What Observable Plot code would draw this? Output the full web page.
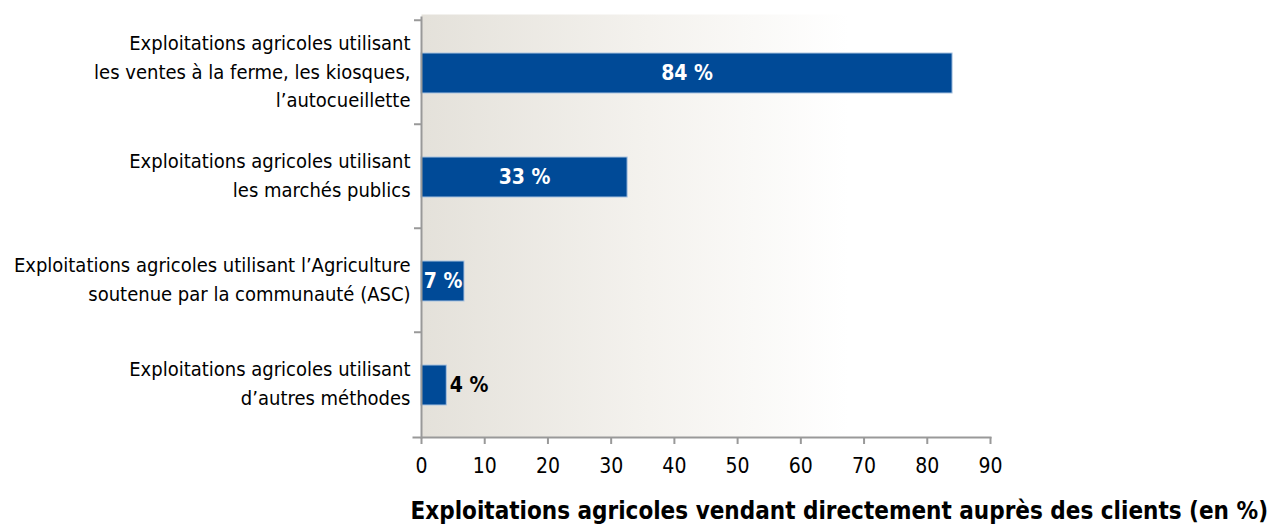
<!DOCTYPE html>
<html>
<head>
<meta charset="utf-8">
<script src="https://cdn.jsdelivr.net/npm/d3@7"></script>
<script src="https://cdn.jsdelivr.net/npm/@observablehq/plot@0.6"></script>
<style>
  html, body { margin: 0; padding: 0; background: #fff; }
  body { width: 1278px; height: 527px; overflow: hidden; font-family: "DejaVu Sans Condensed", "Liberation Sans Narrow", sans-serif; }
  #title { position: absolute; left: 0; width: 1268px; top: 499px; text-align: right; font-weight: bold; font-size: 24px; color: #000; line-height: 1; }
</style>
</head>
<body>
<div id="chart"></div>
<div id="title">Exploitations agricoles vendant directement auprès des clients (en %)</div>
<script>
const categories = [
  "Exploitations agricoles utilisant\nles ventes à la ferme, les kiosques,\nl’autocueillette",
  "Exploitations agricoles utilisant\nles marchés publics",
  "Exploitations agricoles utilisant l’Agriculture\nsoutenue par la communauté (ASC)",
  "Exploitations agricoles utilisant\nd’autres méthodes"
];
const values = [84, 32.6, 6.8, 4];
const valueLabels = ["84 %", "33 %", "7 %", "4 %"];
const xTicks = [0, 10, 20, 30, 40, 50, 60, 70, 80, 90];

const data = categories.map((c, i) => ({category: c, value: values[i], label: valueLabels[i]}));

const FONT = `"DejaVu Sans Condensed", "Liberation Sans Narrow", sans-serif`;
const H = 480, MT = 19, MB = 43;
const bw = (H - MT - MB) / categories.length;

const plot = Plot.plot({
  width: 1278,
  height: H,
  marginLeft: 421,
  marginRight: 288,
  marginTop: MT,
  marginBottom: MB,
  style: {fontFamily: FONT, fontSize: "20px", color: "#000", background: "transparent"},
  x: {domain: [0, 90], ticks: xTicks},
  y: {domain: categories, padding: 0},
  marks: [
    Plot.frame({fill: "url(#bggrad)", stroke: null, insetTop: -5}),
    Plot.barX(data, {x: "value", y: "category", fill: "#004a97", stroke: "#a9c3e0", strokeWidth: 1, insetTop: 33, insetBottom: 31}),
    Plot.text(data.filter(d => d.value > 5), {x: d => d.value / 2, y: "category", text: "label", fill: "#fff", fontWeight: "bold", fontSize: 21, dy: 1}),
    Plot.text(data.filter(d => d.value <= 5), {x: "value", y: "category", text: "label", fill: "#000", fontWeight: "bold", fontSize: 21, textAnchor: "start", dx: 3, dy: 1}),
    Plot.axisY({tickSize: 0, tickPadding: 11, lineHeight: 1.42, fontSize: 20, label: null, dy: -3}),
    Plot.axisY({tickSize: 7, tickFormat: null, dy: -bw / 2, stroke: "#999", strokeWidth: 2, label: null}),
    Plot.axisX({ticks: xTicks, tickSize: 7, tickPadding: 14, stroke: "#999", strokeWidth: 2, label: null, fontSize: 21}),
    Plot.frame({anchor: "left", stroke: "#999", strokeWidth: 2, insetTop: -2}),
    Plot.frame({anchor: "bottom", stroke: "#999", strokeWidth: 2, insetLeft: -8})
  ]
});

const svg = d3.select(plot);
const defs = svg.insert("defs", ":first-child");
const g = defs.append("linearGradient").attr("id", "bggrad").attr("x1", "0%").attr("x2", "100%").attr("y1", "0%").attr("y2", "0%");
g.append("stop").attr("offset", "0%").attr("stop-color", "#e4e1da");
g.append("stop").attr("offset", "40%").attr("stop-color", "#f4f2ee");
g.append("stop").attr("offset", "75%").attr("stop-color", "#ffffff");
g.append("stop").attr("offset", "100%").attr("stop-color", "#ffffff");

document.getElementById("chart").appendChild(plot);
</script>
</body>
</html>
